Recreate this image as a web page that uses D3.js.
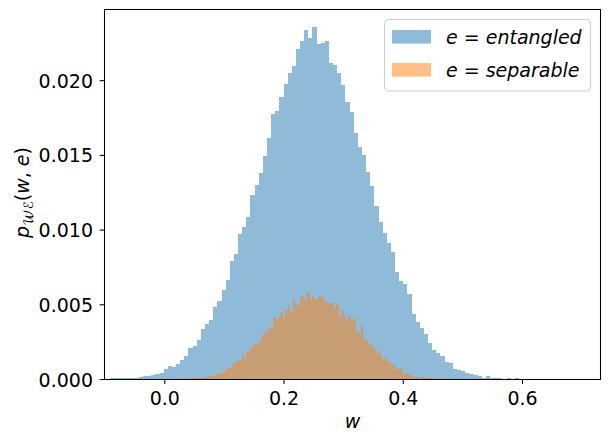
<!DOCTYPE html>
<html><head><meta charset="utf-8">
<script src="https://cdn.jsdelivr.net/npm/d3@7"></script>
<style>
body{margin:0;background:#fff}
text{font-family:"DejaVu Sans",sans-serif;fill:#000}
.it{font-style:italic}
</style>
</head><body><svg id="c" width="610" height="442" xmlns="http://www.w3.org/2000/svg"></svg>
<script>
// ---- data ----
const seriesNames = ["entangled", "separable"];
const blueBinStart = -0.0911, blueBinWidth = 0.00693;
const blueValues = [
0.00004,0.00005,0.00005,0.00006,0.00005,0.00006,0.00007,0.00011,0.00020,0.00020,
0.00027,0.00033,0.00040,0.00067,0.00087,0.00080,0.00100,0.00127,0.00154,0.00207,
0.00220,0.00260,0.00334,0.00368,0.00395,0.00484,0.00522,0.00595,0.00662,0.00791,
0.00836,0.00970,0.01015,0.01084,0.01231,0.01298,0.01378,0.01492,0.01612,0.01773,
0.01793,0.01886,0.01973,0.02047,0.02094,0.02207,0.02261,0.02334,0.02281,0.02355,
0.02241,0.02248,0.02261,0.02114,0.02100,0.02047,0.01967,0.01853,0.01786,0.01645,
0.01552,0.01498,0.01385,0.01291,0.01157,0.01050,0.00977,0.00910,0.00850,0.00716,
0.00656,0.00635,0.00570,0.00435,0.00380,0.00340,0.00300,0.00240,0.00194,0.00174,
0.00154,0.00114,0.00107,0.00067,0.00060,0.00053,0.00040,0.00036,0.00029,0.00022,
0.00009,0.00022,0.00008,0.00008,0.00008,0.00003,0.00008,0.00002,0.00008,0.00002];
const orangeBinStart = 0.04394, orangeBinWidth = 0.004076;
const orangeValues = [
0.00005,0.00005,0.00007,0.00007,0.00009,0.00013,0.00013,0.00022,0.00022,0.00022,
0.00034,0.00034,0.00038,0.00045,0.00062,0.00080,0.00074,0.00100,0.00114,0.00122,
0.00127,0.00167,0.00134,0.00181,0.00194,0.00221,0.00234,0.00234,0.00248,0.00281,
0.00308,0.00321,0.00335,0.00341,0.00408,0.00395,0.00415,0.00442,0.00408,0.00462,
0.00488,0.00442,0.00535,0.00502,0.00488,0.00549,0.00549,0.00522,0.00582,0.00529,
0.00555,0.00535,0.00542,0.00555,0.00549,0.00522,0.00508,0.00508,0.00508,0.00475,
0.00502,0.00422,0.00462,0.00422,0.00395,0.00415,0.00381,0.00408,0.00314,0.00308,
0.00361,0.00274,0.00261,0.00234,0.00228,0.00207,0.00174,0.00194,0.00161,0.00134,
0.00141,0.00120,0.00107,0.00094,0.00067,0.00060,0.00074,0.00047,0.00034,0.00040,
0.00027,0.00020,0.00013,0.00013,0.00007,0.00013,0.00013,0.00007,0.00007,0.00007];
const xTicks = [0.0, 0.2, 0.4, 0.6];
const yTicks = [0.000, 0.005, 0.010, 0.015, 0.020];
const xDomain = [-0.1003, 0.7317];
const yDomain = [0, 0.02473];

// ---- layout ----
const L = 104.5, R = 600.5, T = 9.5, B = 379;
const svg = d3.select("#c");
const x = d3.scaleLinear().domain(xDomain).range([L, R]);
const y = d3.scaleLinear().domain(yDomain).range([B, T]);

function bars(values, start, width, color){
  const bins = values.map((v, i) => ({x0: start + i*width, x1: start + (i+1)*width, v}));
  svg.append("g").attr("shape-rendering","crispEdges")
    .selectAll("rect").data(bins).join("rect")
    .attr("x", d => Math.round(x(d.x0)))
    .attr("width", d => Math.round(x(d.x1)) - Math.round(x(d.x0)))
    .attr("y", d => Math.round(y(d.v)))
    .attr("height", d => Math.round(y(0)) - Math.round(y(d.v)))
    .attr("fill", color).attr("fill-opacity", 0.5);
}
bars(blueValues, blueBinStart, blueBinWidth, "#1f77b4");
bars(orangeValues, orangeBinStart, orangeBinWidth, "#ff7f0e");

// spines
svg.append("rect").attr("x", L).attr("y", T).attr("width", R - L).attr("height", B + 0.5 - T)
  .attr("fill","none").attr("stroke","#000").attr("stroke-width",1.05);

// axes
const xa = svg.append("g").attr("transform",`translate(0,${B})`)
  .call(d3.axisBottom(x).tickValues(xTicks).tickFormat(d3.format(".1f")).tickSize(4.9).tickSizeOuter(0).tickPadding(4.9));
xa.select(".domain").remove();
xa.selectAll("text").attr("y", 0).attr("dy", 26).style("font-size","19px").attr("font-family", null);
xa.selectAll("line").attr("stroke-width",1.05);

const ya = svg.append("g").attr("transform",`translate(${L},0)`)
  .call(d3.axisLeft(y).tickValues(yTicks).tickFormat(d3.format(".3f")).tickSize(4.9).tickSizeOuter(0).tickPadding(6.6));
ya.select(".domain").remove();
ya.selectAll("text").attr("dy", "0.37em").style("font-size","19px").attr("font-family", null);
ya.selectAll("line").attr("stroke-width",1.05);

// axis labels
svg.append("text").attr("class","it").attr("x", (L+R)/2).attr("y", 428.3)
  .attr("text-anchor","middle").style("font-size","19px").text("w");

const yl = svg.append("text").attr("transform","translate(29.4,192.5) rotate(-90)")
  .attr("text-anchor","middle").style("font-size","19px").style("white-space","pre");
yl.append("tspan").attr("class","it").text("p");
yl.append("tspan").attr("dy", 4).style("font-size","13.3px")
  .style("font-family",'"DejaVu Sans","DejaVu Math TeX Gyre","Noto Sans Math",serif').text("𝒲ℰ");
yl.append("tspan").attr("dy", -4).text("(");
yl.append("tspan").attr("class","it").text("w");
yl.append("tspan").text(", ");
yl.append("tspan").attr("class","it").text("e");
yl.append("tspan").text(")");

// legend
const lg = svg.append("g");
lg.append("rect").attr("x",384.5).attr("y",19.5).attr("width",206).attr("height",71.5).attr("rx",4)
  .attr("fill","#fff").attr("fill-opacity",0.8).attr("stroke","#cccccc").attr("stroke-width",1);
const legendItems = [
  {name: seriesNames[0], color: "#1f77b4", py: 30, ty: 44},
  {name: seriesNames[1], color: "#ff7f0e", py: 63, ty: 76.5}
];
legendItems.forEach(it => {
  lg.append("rect").attr("x",392).attr("y",it.py).attr("width",39).attr("height",13.6)
    .attr("fill",it.color).attr("fill-opacity",0.5);
  const t = lg.append("text").attr("x",446).attr("y",it.ty).style("font-size","19px").style("white-space","pre");
  t.append("tspan").attr("class","it").text("e");
  t.append("tspan").text(" = ");
  t.append("tspan").attr("class","it").text(it.name);
});
</script></body></html>
